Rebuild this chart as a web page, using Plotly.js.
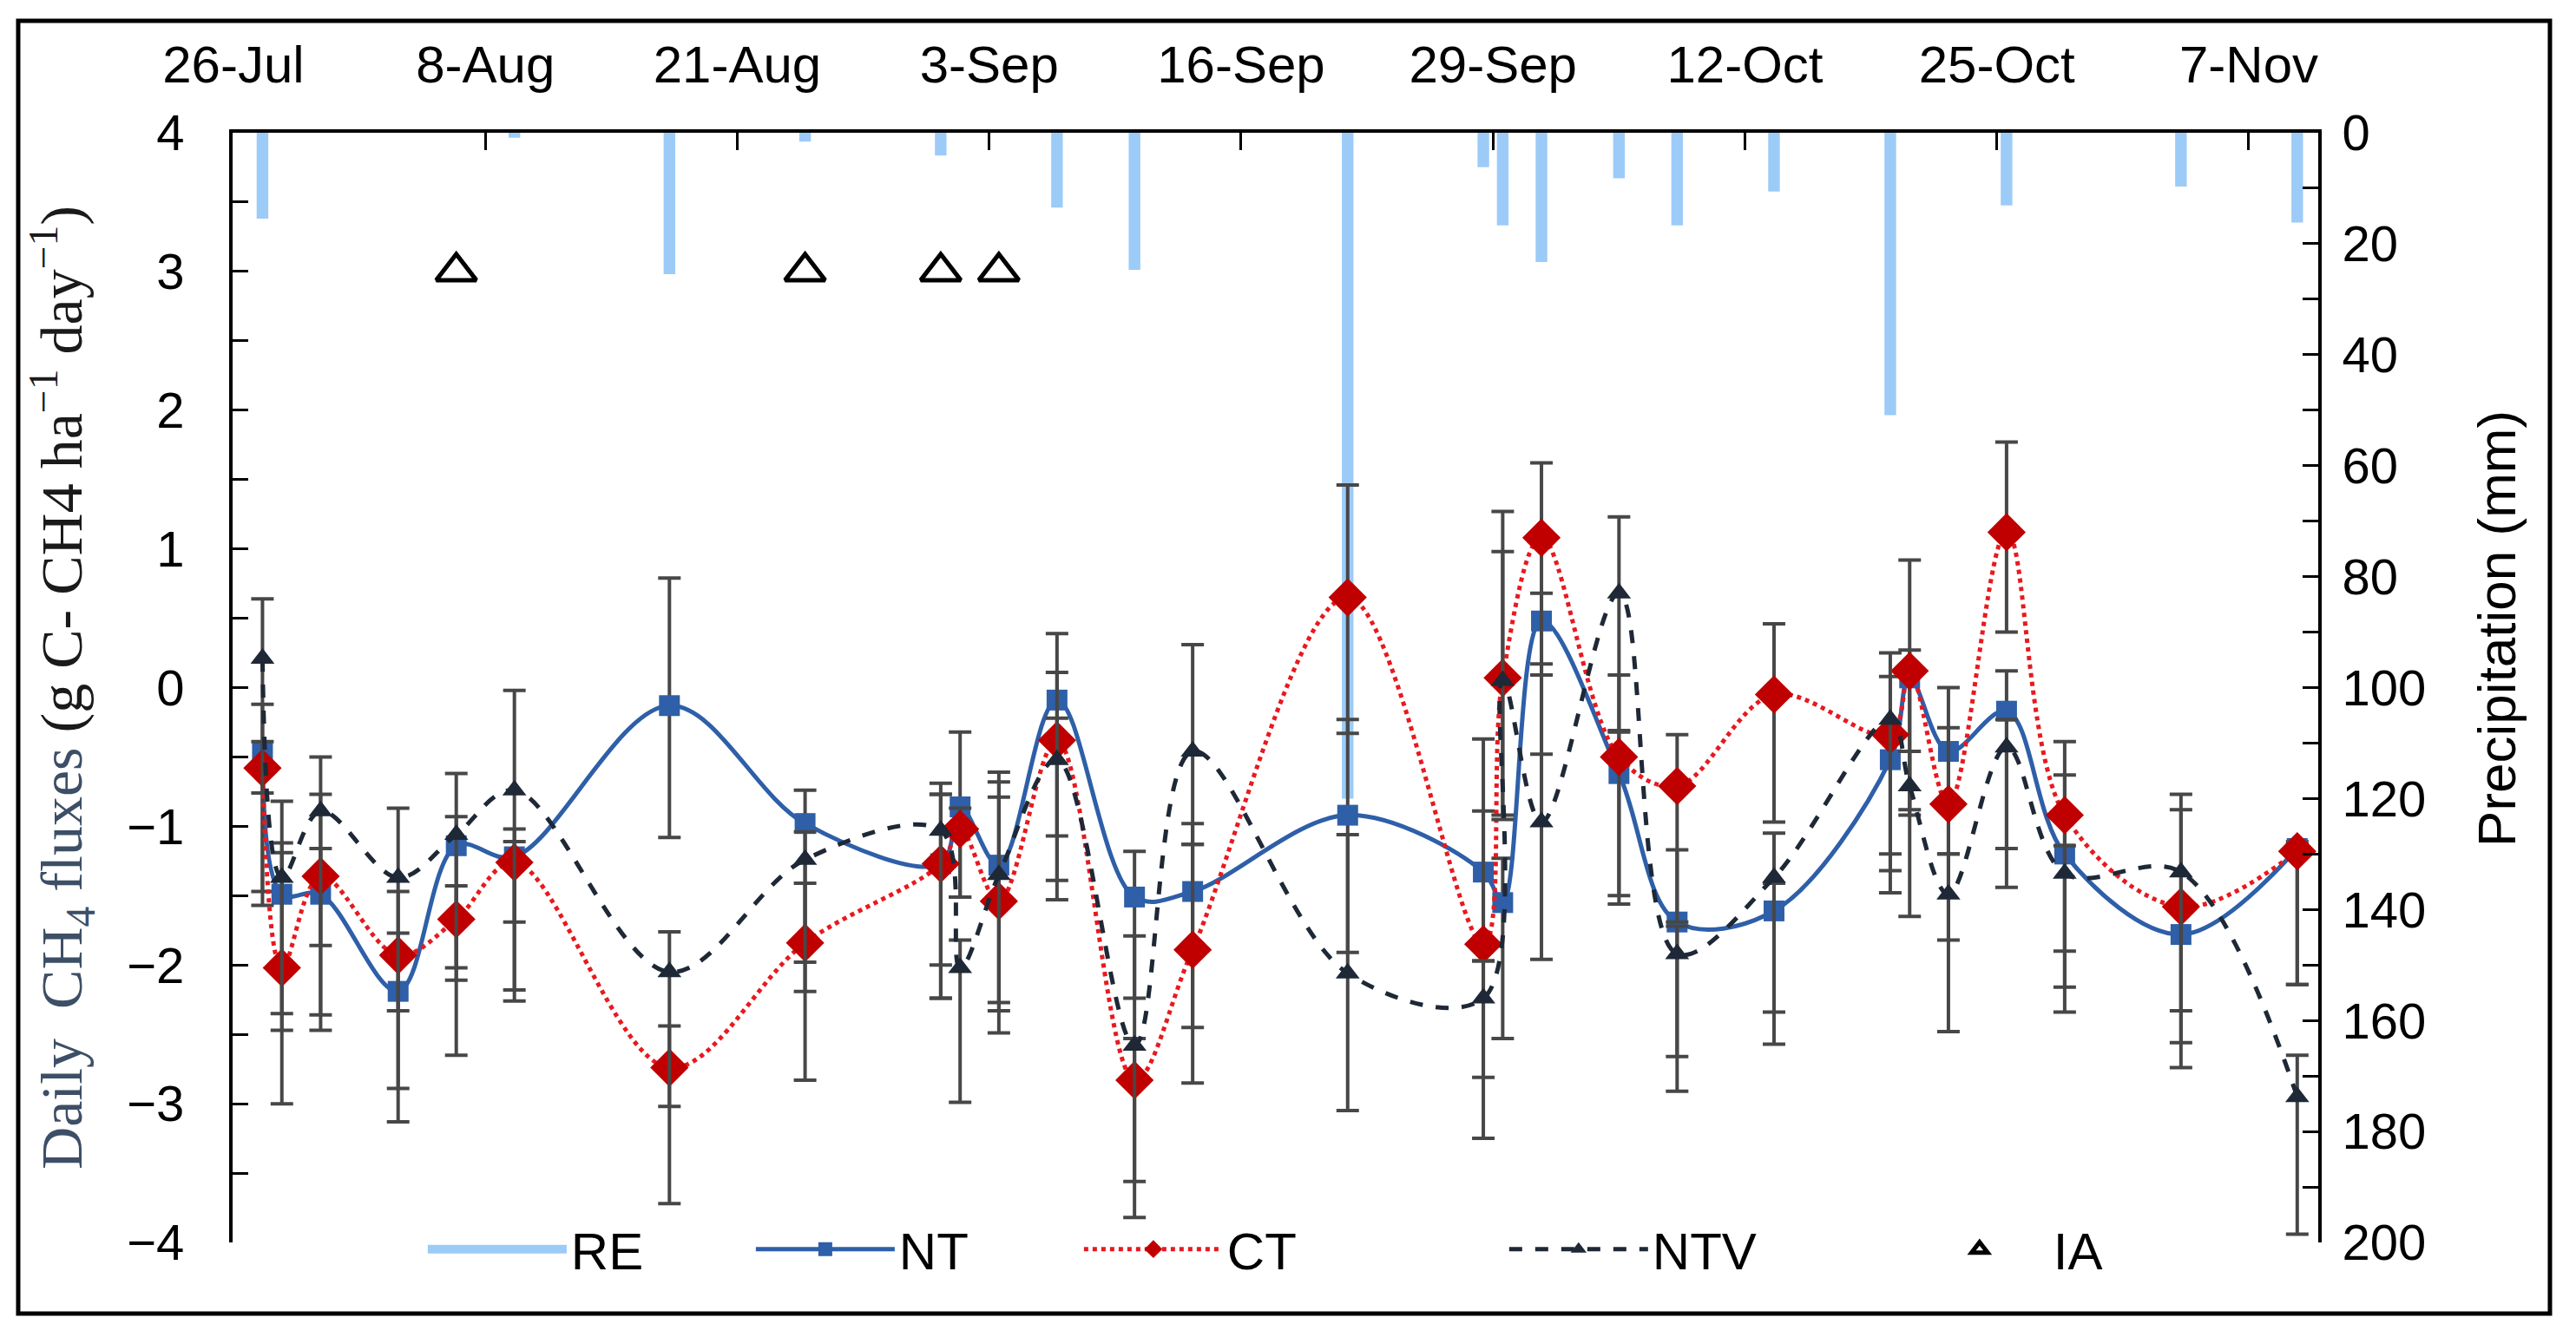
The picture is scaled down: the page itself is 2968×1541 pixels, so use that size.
<!DOCTYPE html>
<html>
<head>
<meta charset="utf-8">
<script src="https://cdn.plot.ly/plotly-3.0.1.min.js"></script>
<style>
  html, body { margin: 0; padding: 0; background: #fff; }
  #plot { width: 2968px; height: 1541px; }
</style>
</head>
<body>
<div id="plot"></div>
<script>
// sampling dates
var dates = ['2019-07-27','2019-07-28','2019-07-30','2019-08-03','2019-08-06','2019-08-09','2019-08-17',
  '2019-08-24','2019-08-31','2019-09-01','2019-09-03','2019-09-06','2019-09-10','2019-09-13','2019-09-21',
  '2019-09-28','2019-09-29','2019-10-01','2019-10-05','2019-10-08','2019-10-13','2019-10-19','2019-10-20',
  '2019-10-22','2019-10-25','2019-10-28','2019-11-03','2019-11-09'];

// daily CH4 fluxes
var nt  = [-0.46,-1.49,-1.49,-2.19,-1.14,-1.22,-0.13,-0.98,-1.27,-0.86,-1.28,-0.09,-1.51,-1.47,-0.92,
  -1.33,-1.55,0.48,-0.62,-1.69,-1.61,-0.52,0.07,-0.46,-0.17,-1.20,-1.78,-1.16];
var ct  = [-0.58,-2.02,-1.36,-1.93,-1.67,-1.26,-2.74,-1.84,-1.27,-1.02,-1.54,-0.38,-2.83,-1.89,0.65,
  -1.85,0.07,1.08,-0.50,-0.71,-0.05,-0.34,0.12,-0.84,1.12,-0.92,-1.58,-1.18];
var ntv = [0.21,-1.37,-0.89,-1.37,-1.06,-0.74,-2.05,-1.24,-1.03,-2.02,-1.35,-0.52,-2.58,-0.46,-2.06,
  -2.24,0.05,-0.97,0.68,-1.92,-1.37,-0.23,-0.71,-1.49,-0.43,-1.34,-1.33,-2.95];

// error bars (up / down)
var ntUp   = [0.34,0.67,0.72,0.42,0.52,0.20,0.92,0.24,0.50,0.54,0.67,0.48,0.33,0.49,0.69,0.96,0.32,0.20,0.30,0.52,0.20,0.20,0.20,0.46,0.29,0.57,0.20,0.05];
var ntDown = [1.01,0.86,0.98,0.94,0.97,0.96,0.95,1.00,0.97,0.65,0.99,0.98,0.73,0.98,0.99,0.64,0.98,0.96,0.94,0.97,0.96,0.96,0.95,0.74,0.99,0.96,0.96,0.98];
var ctUp   = [0.19,0.83,0.20,0.46,0.24,0.15,0.30,0.43,0.50,0.15,0.75,0.49,0.30,0.76,0.81,0.96,1.20,0.54,0.59,0.37,0.51,0.42,0.80,0.55,0.65,0.53,0.70,0.05];
var ctDown = [0.99,0.98,1.00,0.96,0.98,1.00,0.98,0.99,0.97,0.49,0.95,1.01,0.99,0.96,0.98,0.96,0.99,0.99,1.00,0.98,0.92,0.98,1.04,0.98,0.72,0.98,0.98,0.96];
var ntvUp   = [0.43,0.25,0.39,0.50,0.13,0.72,0.29,0.20,0.34,0.20,0.67,0.30,0.79,0.77,1.00,0.27,0.93,1.14,0.55,0.20,0.32,0.48,0.25,0.29,0.20,0.20,0.56,0.30];
var ntvDown = [0.97,1.10,0.97,0.96,0.96,0.95,0.97,0.95,0.97,0.97,0.98,1.01,0.98,0.67,0.99,1.01,1.00,0.99,0.99,0.99,0.97,0.97,0.94,0.99,1.01,1.00,1.00,0.99];

// rainfall events (mm)
var rainDates = ['2019-07-27','2019-08-09','2019-08-17','2019-08-24','2019-08-31','2019-09-06','2019-09-10',
  '2019-09-21','2019-09-28','2019-09-29','2019-10-01','2019-10-05','2019-10-08','2019-10-13','2019-10-19',
  '2019-10-25','2019-11-03','2019-11-09'];
var rain = [15.5,0.9,25.5,1.6,4.1,13.5,24.7,120,6.2,16.7,23.3,8.2,16.7,10.6,50.9,13.1,9.7,16.2];

// irrigation
var iaDates = ['2019-08-06','2019-08-24','2019-08-31','2019-09-03'];
var iaLevel = [3, 3, 3, 3];

// top axis labels
var tickDates = ['2019-07-26','2019-08-08','2019-08-21','2019-09-03','2019-09-16','2019-09-29','2019-10-12','2019-10-25','2019-11-07'];
var tickText  = ['26-Jul','8-Aug','21-Aug','3-Sep','16-Sep','29-Sep','12-Oct','25-Oct','7-Nov'];

// Excel puts date ticks at the start of each day slot
var tickVals = tickDates.map(function (d) {
    return new Date(Date.parse(d + 'T00:00:00Z') - 12 * 3600 * 1000).toISOString().replace('T', ' ').slice(0, 16);
});

var FONT = 'Liberation Sans, Arial, sans-serif';
var ERR = '#474747';
var DAY = 86400000;

function errs(up, down) {
    return { type: 'data', symmetric: false, array: up, arrayminus: down,
             color: ERR, thickness: 4, width: 13 };
}

var traces = [
  { x: [null], y: [null], type: 'scatter', mode: 'lines', name: 'RE',
    line: { color: '#9ccbf8', width: 30 }, xaxis: 'x', yaxis: 'y', hoverinfo: 'skip' },
  { x: rainDates, y: rain, type: 'bar', name: 'RE', showlegend: false,
    marker: { color: '#9ccbf8' }, width: 0.6 * DAY, xaxis: 'x', yaxis: 'y' },
  { x: dates, y: nt, type: 'scatter', mode: 'lines+markers', name: 'NT',
    line: { color: '#2e5fa8', width: 5, shape: 'spline', smoothing: 1 },
    marker: { symbol: 'square', size: 24, color: '#2e5fa8' },
    error_y: errs(ntUp, ntDown), xaxis: 'x', yaxis: 'y2' },
  { x: dates, y: ct, type: 'scatter', mode: 'lines+markers', name: 'CT',
    line: { color: '#e8191f', width: 5, dash: 'dot', shape: 'spline', smoothing: 1 },
    marker: { symbol: 'diamond', size: 34, color: '#c00000' },
    error_y: errs(ctUp, ctDown), xaxis: 'x', yaxis: 'y2' },
  { x: dates, y: ntv, type: 'scatter', mode: 'lines+markers', name: 'NTV', legend: 'legend2',
    line: { color: '#1e2836', width: 5, dash: 'dash', shape: 'spline', smoothing: 1 },
    marker: { symbol: 'triangle-up', size: 24, color: '#1e2836' },
    error_y: errs(ntvUp, ntvDown), xaxis: 'x', yaxis: 'y2' },
  { x: iaDates, y: iaLevel, type: 'scatter', mode: 'markers', name: 'IA', legend: 'legend2',
    marker: { symbol: 'triangle-up-open', size: 40, color: '#000', line: { width: 5, color: '#000' } },
    xaxis: 'x', yaxis: 'y2' }
];

var legendBase = {
  orientation: 'h', xanchor: 'left', y: -0.006, yanchor: 'middle',
  font: { size: 60, family: FONT }, bgcolor: 'rgba(0,0,0,0)',
  itemwidth: 160, traceorder: 'normal'
};

var layout = {
  width: 2968, height: 1541,
  margin: { l: 268, r: 297, t: 153, b: 109 },
  paper_bgcolor: '#fff', plot_bgcolor: 'rgba(0,0,0,0)',
  font: { family: FONT, color: '#000' },
  showlegend: true,
  legend: Object.assign({}, legendBase, { x: 0.0915, entrywidth: 203 }),
  legend2: Object.assign({}, legendBase, { x: 0.610, entrywidth: 287 }),
  xaxis: {
    type: 'date', side: 'top', anchor: 'y',
    range: ['2019-07-25 11:00', '2019-11-10 02:00'],
    tickmode: 'array', tickvals: tickVals, ticktext: tickText,
    ticks: 'inside', ticklen: 20, tickwidth: 3, tickcolor: '#000',
    showline: true, linewidth: 4, linecolor: '#000',
    showgrid: false, zeroline: false,
    tickfont: { size: 60, family: FONT, color: '#000' },
    ticklabelstandoff: 30
  },
  yaxis: {
    side: 'right', range: [200, 0], dtick: 20, tick0: 0,
    ticks: 'inside', ticklen: 18, tickwidth: 3, tickcolor: '#000',
    minor: { dtick: 10, ticks: 'inside', ticklen: 18, tickwidth: 3, tickcolor: '#000' },
    showline: true, linewidth: 4, linecolor: '#000',
    showgrid: false, zeroline: false,
    tickfont: { size: 58, family: FONT, color: '#000' },
    ticklabelstandoff: 12
  },
  yaxis2: {
    overlaying: 'y', side: 'left', anchor: 'x', range: [-4, 4], dtick: 1, tick0: 0,
    ticks: 'inside', ticklen: 18, tickwidth: 3, tickcolor: '#000',
    minor: { dtick: 0.5, ticks: 'inside', ticklen: 18, tickwidth: 3, tickcolor: '#000' },
    showline: true, linewidth: 4, linecolor: '#000',
    showgrid: false, zeroline: false,
    tickfont: { size: 58, family: FONT, color: '#000' },
    ticklabelstandoff: 40,
    title: {
      text: "<span style='color:#3d4f66'>Daily  CH<sub>4</sub> fluxes</span> (g C- CH4 ha<sup>\u22121</sup> day<sup>\u22121</sup>)",
      font: { size: 68, family: 'Liberation Serif, Times New Roman, serif', color: '#1a1a1a' },
      standoff: 30
    }
  },
  annotations: [
    { text: 'Precipitation (mm)', xref: 'paper', yref: 'paper', x: 1.0857, y: 0.5536,
      xanchor: 'center', yanchor: 'middle', textangle: -90, showarrow: false,
      font: { size: 62, family: FONT, color: '#000' } }
  ],
  shapes: [
    { type: 'rect', xref: 'paper', yref: 'paper', x0: -0.1028, x1: 1.1111, y0: -0.0641, y1: 1.1009,
      line: { color: '#000', width: 5 }, fillcolor: 'rgba(0,0,0,0)' }
  ]
};

Plotly.newPlot('plot', traces, layout, { staticPlot: true });
</script>
</body>
</html>
